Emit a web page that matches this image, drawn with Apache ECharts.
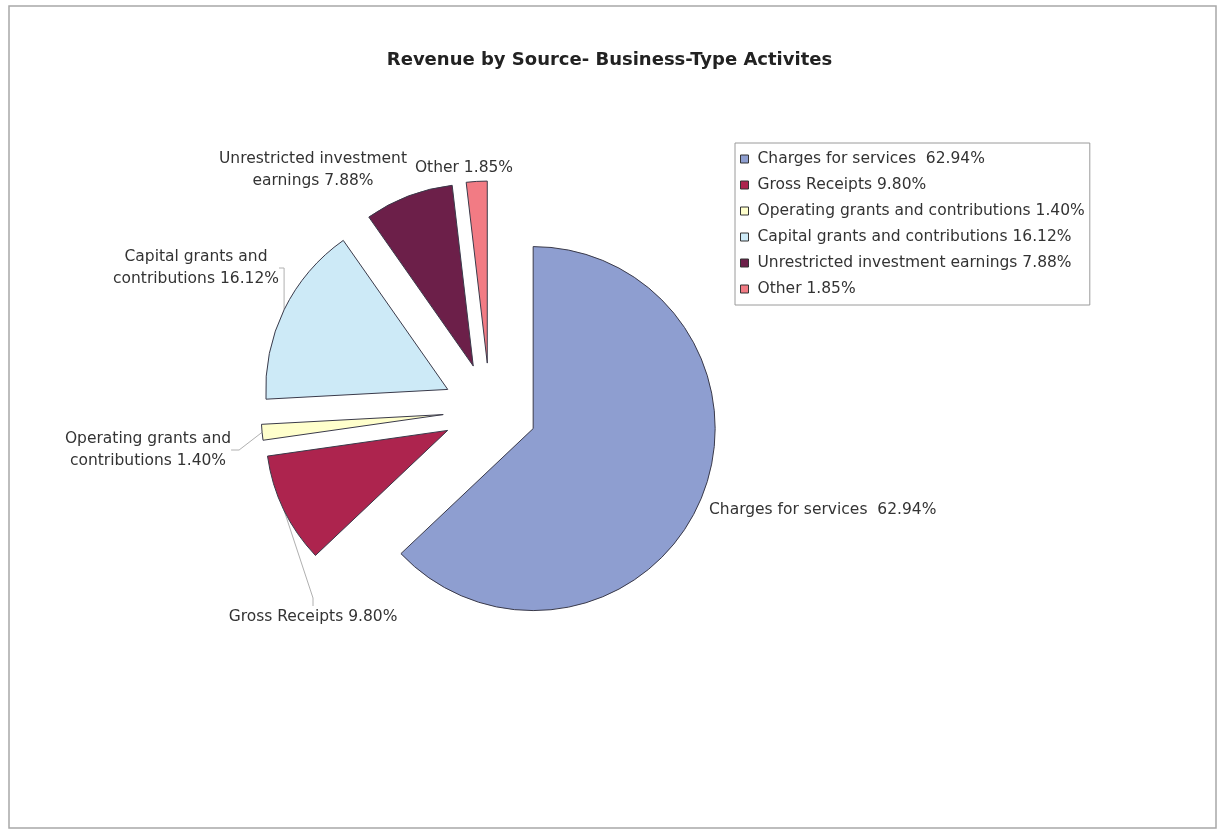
<!DOCTYPE html>
<html>
<head>
<meta charset="utf-8">
<title>Revenue by Source- Business-Type Activites</title>
<script src="https://cdn.jsdelivr.net/npm/echarts@6/dist/echarts.min.js"></script>
<style>
  html, body { margin: 0; padding: 0; background: #ffffff; }
  #chart { width: 1219px; height: 831px; }
</style>
</head>
<body>
<div id="chart"></div>
<script>
// Revenue shares (percent of total), business-type activities
const categories = [
  'Charges for services ',
  'Gross Receipts',
  'Operating grants and contributions',
  'Capital grants and contributions',
  'Unrestricted investment earnings',
  'Other'
];
const shares = [62.94, 9.80, 1.40, 16.12, 7.88, 1.85];

// Slice fills
const sliceColors = ['#8e9ed0', '#ad244e', '#ffffcc', '#cdeaf7', '#6c1f49', '#f27b84'];

// Pie geometry: every slice is pulled out from the common centre
const PIE_CENTER = [490, 410];
const PIE_RADIUS = 182;
const EXPLODE = 47;

// Where each slice label sits, and how the wrapped labels break
const labelSpots = [
  { x: 709, y: 510, align: 'left' },
  { x: 313, y: 617, align: 'center' },
  { x: 148, y: 450, align: 'center' },
  { x: 196, y: 268, align: 'center' },
  { x: 313, y: 170, align: 'center' },
  { x: 464, y: 168, align: 'center' }
];
const labelBreaks = [
  null,
  null,
  ['Operating grants and', 'contributions'],
  ['Capital grants and', 'contributions'],
  ['Unrestricted investment', 'earnings'],
  null
];
const showLeader = [false, true, true, true, false, false];

const FONT = 'DejaVu Sans';
const TEXT_SIZE = 15.5;

function pct(v) { return v.toFixed(2) + '%'; }

function labelText(i) {
  const br = labelBreaks[i];
  if (br) return br[0] + '\n' + br[1] + ' ' + pct(shares[i]);
  return categories[i] + ' ' + pct(shares[i]);
}

// Direction of each slice's bisector (clockwise from 12 o'clock)
const total = shares.reduce((a, b) => a + b, 0);
let running = 0;
const sliceCenters = shares.map(v => {
  const mid = (running + v / 2) / total * 2 * Math.PI;
  running += v;
  return [PIE_CENTER[0] + EXPLODE * Math.sin(mid), PIE_CENTER[1] - EXPLODE * Math.cos(mid)];
});

// One pie per slice: the whole ring is laid out, only slice k is painted,
// and that pie is shifted outwards along slice k's bisector.
const series = categories.map((_, k) => ({
  type: 'pie',
  name: 'slice' + k,
  center: sliceCenters[k],
  radius: PIE_RADIUS,
  startAngle: 90,
  clockwise: true,
  silent: true,
  avoidLabelOverlap: false,
  emphasis: { disabled: true },
  itemStyle: { borderColor: '#3a3a4a', borderWidth: 1 },
  label: {
    show: true,
    position: 'outside',
    fontFamily: FONT,
    fontSize: TEXT_SIZE,
    color: '#333',
    lineHeight: 22,
    formatter: function (p) { return labelText(p.dataIndex); }
  },
  labelLine: {
    show: true,
    length: 8,
    length2: 8,
    lineStyle: { color: '#b0b0b0', width: 1 }
  },
  labelLayout: function (p) {
    const s = labelSpots[p.dataIndex];
    return { x: s.x, y: s.y, align: s.align, verticalAlign: 'middle' };
  },
  data: categories.map((name, i) => i === k ? {
    name: name,
    value: shares[i],
    itemStyle: { color: sliceColors[i] },
    labelLine: { show: showLeader[i] }
  } : {
    name: name,
    value: shares[i],
    itemStyle: { color: 'rgba(0,0,0,0)', borderWidth: 0 },
    label: { show: false },
    labelLine: { show: false }
  })
}));

const chart = echarts.init(document.getElementById('chart'), null, { renderer: 'canvas' });

chart.setOption({
  animation: false,
  backgroundColor: '#ffffff',
  title: {
    text: 'Revenue by Source- Business-Type Activites',
    left: 'center',
    top: 46,
    textStyle: { fontFamily: FONT, fontSize: 18, fontWeight: 'bold', color: '#222' }
  },
  legend: {
    orient: 'vertical',
    left: 735,
    top: 143,
    padding: [8, 5, 8, 5],
    itemWidth: 8,
    itemHeight: 8,
    itemGap: 10,
    borderColor: '#9a9a9a',
    borderWidth: 1,
    icon: 'rect',
    selectedMode: false,
    textStyle: { fontFamily: FONT, fontSize: TEXT_SIZE, color: '#333', lineHeight: 16, padding: [0, 0, 0, 4] },
    formatter: function (name) {
      const i = categories.indexOf(name);
      return name + ' ' + pct(shares[i]);
    },
    data: categories.map((name, i) => ({
      name: name,
      itemStyle: { color: sliceColors[i], borderColor: '#333', borderWidth: 1 }
    }))
  },
  graphic: [{
    type: 'rect',
    silent: true,
    shape: { x: 9, y: 6, width: 1207, height: 822 },
    style: { fill: 'none', stroke: '#a8a8a8', lineWidth: 1.5 }
  }],
  series: series
});
</script>
</body>
</html>
